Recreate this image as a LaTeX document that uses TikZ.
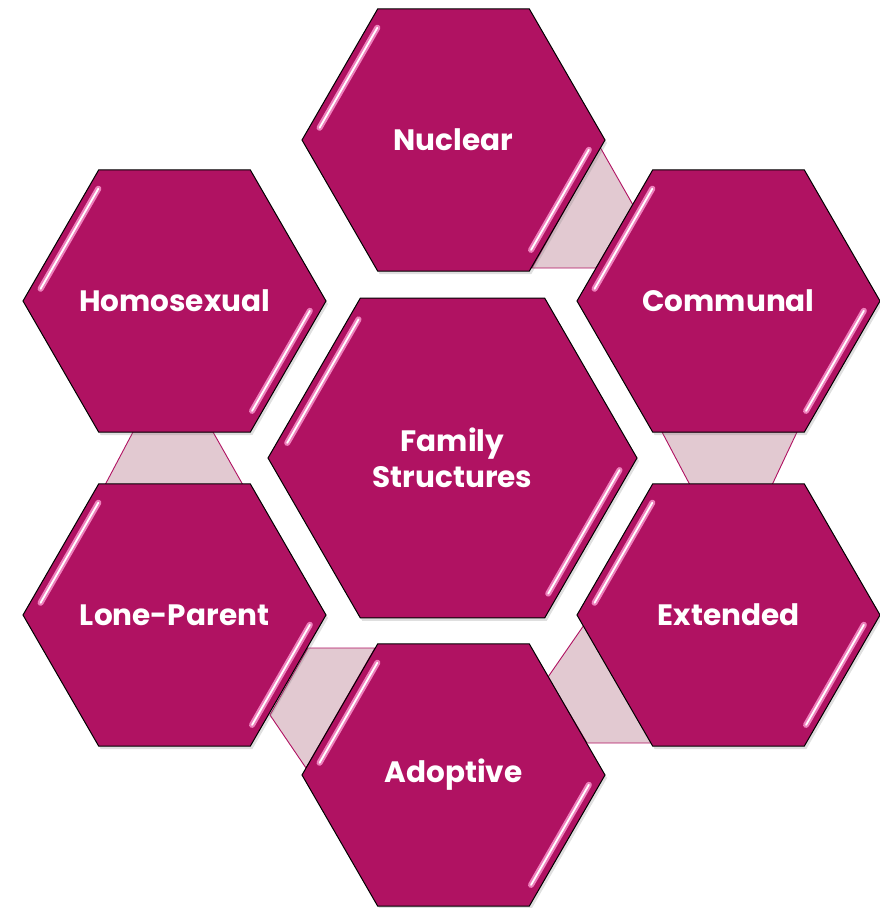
\documentclass[tikz,border=0pt]{standalone}
\usepackage{fontspec}
\setmainfont{Poppins}
\usetikzlibrary{shapes.geometric,calc,shadows}

\definecolor{famfill}{RGB}{176,18,98}
\definecolor{linkfill}{RGB}{226,201,209}
\definecolor{glowpink}{RGB}{238,128,188}

\tikzset{
  hexnode/.style={regular polygon, regular polygon sides=6, minimum size=303pt,
    inner sep=0pt, outer sep=0pt, fill=famfill, draw=black, line width=1pt,
    drop shadow={opacity=0.25, shadow xshift=2pt, shadow yshift=-3pt}},
  bighex/.style={hexnode, minimum size=369pt},
  hextext/.style={text=white, font=\bfseries\fontsize{29.5}{36}\selectfont,
    align=center, inner sep=0pt},
  link/.style={fill=linkfill, draw=famfill, line width=0.9pt},
  glint/.style={line cap=round, line width=6pt, draw=glowpink},
  glintcore/.style={line cap=round, line width=1.8pt, draw=white}
}

% shiny bands along the upper-left and lower-right sides
\newcommand{\hexglint}[2]{%
  \path ([shift={(#1.center)}]180:#2pt) coordinate (#1-a)
        ([shift={(#1.center)}]120:#2pt) coordinate (#1-b)
        ([shift={(#1.center)}]0:#2pt)   coordinate (#1-c)
        ([shift={(#1.center)}]300:#2pt) coordinate (#1-d);
  \foreach \s in {glint,glintcore}{
    \draw[\s] ($(#1-a)!0.1!(#1-b)$) -- ($(#1-a)!0.92!(#1-b)$)
              ($(#1-c)!0.08!(#1-d)$) -- ($(#1-c)!0.9!(#1-d)$);
  }
}

\begin{document}
\begin{tikzpicture}[x=1pt,y=1pt]
  \useasboundingbox (0,0) rectangle (879,-908);

  % links between neighbours
  \draw[link] (600,-147) -- (633,-205) -- (596,-268) -- (532,-268) -- cycle;
  \draw[link] (662,-432) -- (797,-432) -- (772,-485) -- (690,-485) -- cycle;
  \draw[link] (584,-625) -- (652,-743) -- (587,-743) -- (548,-677) -- cycle;
  \draw[link] (308,-648) -- (375,-648) -- (306,-768) -- (270,-715) -- cycle;
  \draw[link] (105,-485) -- (243,-485) -- (213,-432) -- (133,-432) -- cycle;

  \node[bighex, label={[hextext]center:Family\\Structures}] (FS) at (452.5,-458) {};
  \node[hexnode, label={[hextext]center:Nuclear}]     (NU) at (453.5,-140) {};
  \node[hexnode, label={[hextext]center:Communal}]    (CO) at (728.5,-301) {};
  \node[hexnode, label={[hextext]center:Extended}]    (EX) at (728.5,-615) {};
  \node[hexnode, label={[hextext]center:Adoptive}]    (AD) at (453.5,-775) {};
  \node[hexnode, label={[hextext]center:Lone-Parent}] (LP) at (174.5,-615) {};
  \node[hexnode, label={[hextext]center:Homosexual}]  (HO) at (174.5,-301) {};

  \hexglint{FS}{174}
  \foreach \h in {NU,CO,EX,AD,LP,HO}{
    \hexglint{\h}{141}
  }
\end{tikzpicture}
\end{document}
